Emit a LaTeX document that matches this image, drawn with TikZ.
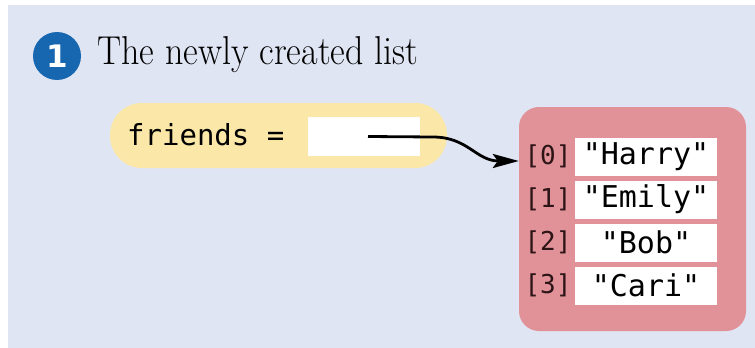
\documentclass[tikz,border=0pt]{standalone}
\usepackage{fontspec}
\newfontfamily\codefont{DejaVu Sans Mono}
\newfontfamily\badgefont{DejaVu Sans}
\usetikzlibrary{arrows.meta}

\definecolor{bgblue}{RGB}{224,229,243}
\definecolor{pillyellow}{RGB}{251,232,168}
\definecolor{listred}{RGB}{224,146,152}
\definecolor{stepblue}{RGB}{22,102,176}
\definecolor{idxdark}{RGB}{45,20,22}

\tikzset{
  badge/.style={circle, fill=stepblue, minimum size=48pt, inner sep=0pt,
    text=white, font=\badgefont\bfseries\fontsize{31}{31}\selectfont},
  title/.style={anchor=base west, inner sep=0pt, font=\fontsize{36}{36}\selectfont},
  varpill/.style={fill=pillyellow, rounded corners=32pt, minimum width=337pt,
    minimum height=65pt, inner sep=0pt},
  code/.style={inner sep=0pt, font=\codefont\fontsize{29}{29}\selectfont},
  slot/.style={fill=white, minimum width=112pt, minimum height=39pt, inner sep=0pt},
  listbox/.style={fill=listred, rounded corners=20pt, minimum width=227pt,
    minimum height=224pt, inner sep=0pt},
  cell/.style={fill=white, minimum width=142pt, minimum height=38pt, inner sep=0pt,
    font=\codefont\fontsize{30}{30}\selectfont},
  index/.style={inner sep=0pt, text=idxdark, font=\codefont\fontsize{26}{26}\selectfont},
  ref/.style={line width=2.8pt, -{Stealth[length=26pt, width=14pt, inset=5pt]}}
}

\begin{document}
\begin{tikzpicture}[x=1pt, y=-1pt]
  \useasboundingbox (0,0) rectangle (755,348);
  \fill[bgblue] (8,5) rectangle (755,348);

  % step heading
  \node[badge] (badge) at (57,56) {1};
  \node[title] (title) at (97,64) {\scalebox{1}[1.12]{The newly created list}};

  % variable friends with its reference slot
  \node[varpill] (pill) at (278.5,135.5) {};
  \node[code, anchor=base west] (varname) at (127,145) {friends =};
  \node[slot] (slot) at (364,136.5) {};

  % the list object
  \node[listbox] (box) at (632.5,219) {};
  \foreach \i/\s/\y in {0/"Harry"/156.5, 1/"Emily"/199.5, 2/"Bob"/242.5, 3/"Cari"/285.5} {
    \node[cell] (cell\i) at (646,\y) {\s};
    \node[index] (idx\i) at (548,\y) {[\i]};
  }

  % reference arrow
  \coordinate (tip) at (box.west |- 0,161);
  \draw[ref] ([xshift=4pt]slot.center) -- (433,137)
    .. controls (468,137) and (476,161) .. (tip);
\end{tikzpicture}
\end{document}
